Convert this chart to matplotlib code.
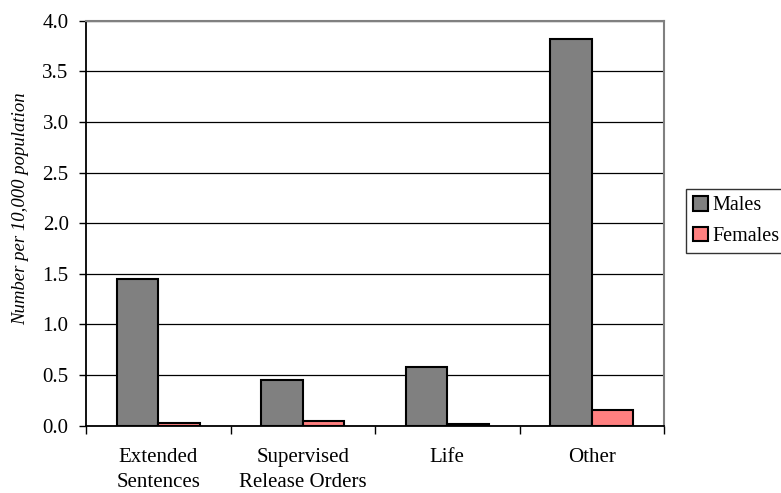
import matplotlib
matplotlib.use("Agg")
import matplotlib.pyplot as plt
import numpy as np

categories = ["Extended\nSentences", "Supervised\nRelease Orders", "Life", "Other"]
males = [1.45, 0.45, 0.58, 3.82]
females = [0.03, 0.05, 0.015, 0.16]
yticks = [0.0, 0.5, 1.0, 1.5, 2.0, 2.5, 3.0, 3.5, 4.0]

plt.rcParams['font.family'] = ['Liberation Serif', 'DejaVu Serif']

fig = plt.figure(figsize=(7.81, 4.93), dpi=100)
ax = fig.add_axes([86/781, 1-425.7/493, (664-86)/781, (425.7-20.7)/493])

x = np.arange(len(categories))
w = 0.288
ax.bar(x - w/2, males, w, color="#808080", edgecolor="black", linewidth=1.5, label="Males", zorder=3)
ax.bar(x + w/2, females, w, color="#FF8080", edgecolor="black", linewidth=1.5, label="Females", zorder=3)

ax.set_xlim(-0.5, len(categories) - 0.5)
ax.set_ylim(0, 4.0)
ax.set_yticks(yticks)
ax.set_yticklabels([f"{v:.1f}" for v in yticks], fontsize=15)
ax.yaxis.grid(True, color="black", linewidth=0.9, zorder=0)
ax.set_axisbelow(True)

ax.set_xticks(x)
ax.set_xticklabels(categories, fontsize=15, linespacing=1.4)
ax.tick_params(axis='x', which='major', length=0, pad=16)
ax.set_xticks(np.arange(-0.5, len(categories), 1.0), minor=True)
ax.tick_params(axis='x', which='minor', length=6, width=1, color='black', direction='out')
ax.tick_params(axis='y', length=5, width=1, direction='out', pad=7.5)

ax.spines['left'].set_color('black')
ax.spines['left'].set_linewidth(1.3)
ax.spines['bottom'].set_color('black')
ax.spines['bottom'].set_linewidth(1.3)
ax.spines['top'].set_color('#808080')
ax.spines['top'].set_linewidth(1.5)
ax.spines['right'].set_color('#808080')
ax.spines['right'].set_linewidth(1.5)

ax.set_ylabel("Number per 10,000 population", fontsize=13.5, style='italic')
ax.yaxis.set_label_coords(-0.099, 0.537)

leg = fig.legend(loc='upper left', bbox_to_anchor=(686/781, 1-189/493), fontsize=14.5,
                 frameon=True, fancybox=False, edgecolor='black', borderpad=0.35,
                 handlelength=0.75, handleheight=0.75, handletextpad=0.2, labelspacing=0.55,
                 borderaxespad=0)
leg.get_frame().set_linewidth(1.0)

fig.savefig("out.png", dpi=100)
